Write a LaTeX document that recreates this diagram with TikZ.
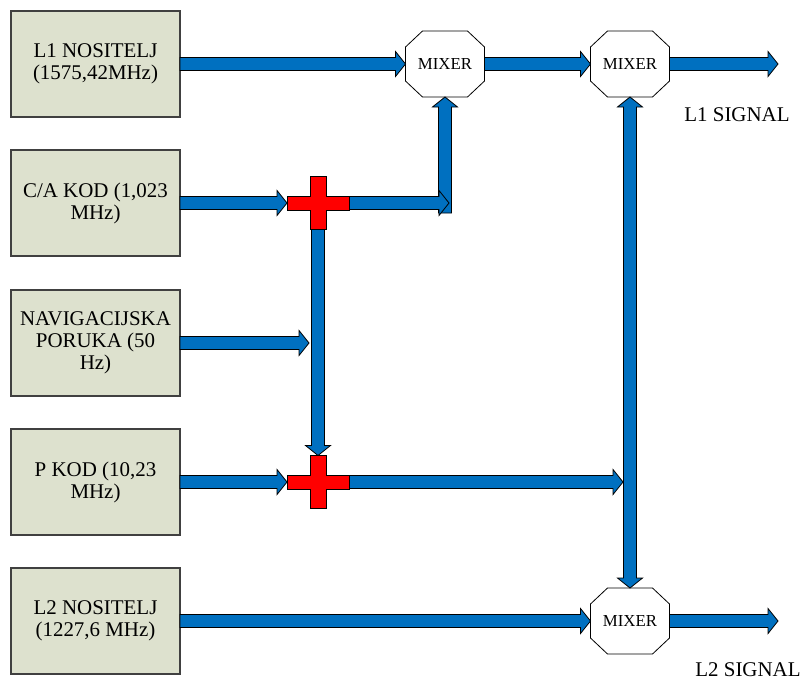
\documentclass[tikz,border=0pt]{standalone}
\usepackage{fontspec}
\setmainfont{Liberation Serif}
\usetikzlibrary{calc}

\definecolor{boxfill}{RGB}{221,225,206}
\definecolor{boxline}{RGB}{64,64,64}
\definecolor{flowblue}{RGB}{0,112,192}
\definecolor{sumred}{RGB}{255,0,0}

% block arrow: tail #1, tip #2
\newcommand\blockarrow[2]{%
  \path ($(#2)!7.5pt!(#1)$) coordinate (hb);
  \draw[flow] ($(#1)!4.875pt!90:(#2)$) -- ($(hb)!4.875pt!90:(#2)$)
    -- ($(hb)!9.4pt!90:(#2)$) -- (#2) -- ($(hb)!9.4pt!-90:(#2)$)
    -- ($(hb)!4.875pt!-90:(#2)$) -- ($(#1)!4.875pt!-90:(#2)$) -- cycle;}

% block arrow with heads at both ends
\newcommand\dblockarrow[2]{%
  \path ($(#2)!7.5pt!(#1)$) coordinate (hb) ($(#1)!7.5pt!(#2)$) coordinate (ha);
  \draw[flow] (#1) -- ($(ha)!9.4pt!90:(#2)$) -- ($(ha)!4.875pt!90:(#2)$)
    -- ($(hb)!4.875pt!90:(#2)$) -- ($(hb)!9.4pt!90:(#2)$) -- (#2)
    -- ($(hb)!9.4pt!-90:(#2)$) -- ($(hb)!4.875pt!-90:(#2)$)
    -- ($(ha)!4.875pt!-90:(#2)$) -- ($(ha)!9.4pt!-90:(#2)$) -- cycle;}

% octagon outline around a mixer node
\newcommand\octagon[1]{%
  \draw[mixline] ($(#1.north west)+(17,0)$) -- ($(#1.north east)+(-17,0)$)
    -- ($(#1.north east)+(0,16)$) -- ($(#1.south east)+(0,-16)$)
    -- ($(#1.south east)+(-17,0)$) -- ($(#1.south west)+(17,0)$)
    -- ($(#1.south west)+(0,-16)$) -- ($(#1.north west)+(0,16)$) -- cycle;}

% red plus sign of a summing junction
\newcommand\plussign[1]{%
  \draw[plus] ($(#1)+(-8,-26.5)$) -- ($(#1)+(8,-26.5)$) -- ($(#1)+(8,-7)$)
    -- ($(#1)+(31,-7)$) -- ($(#1)+(31,7)$) -- ($(#1)+(8,7)$)
    -- ($(#1)+(8,26.5)$) -- ($(#1)+(-8,26.5)$) -- ($(#1)+(-8,7)$)
    -- ($(#1)+(-31,7)$) -- ($(#1)+(-31,-7)$) -- ($(#1)+(-8,-7)$) -- cycle;}

\tikzset{
  src/.style={draw=boxline, fill=boxfill, line width=1.2pt,
    minimum width=126.75pt, minimum height=79.5pt, inner sep=0pt, outer sep=0pt,
    align=center, font=\fontsize{15.7}{16.5}\selectfont},
  mixer/.style={minimum width=59.25pt, minimum height=49.5pt,
    inner sep=0pt, outer sep=0pt, font=\fontsize{12.6}{14}\selectfont},
  sumnode/.style={minimum width=46.5pt, minimum height=39.75pt,
    inner sep=0pt, outer sep=0pt},
  flow/.style={fill=flowblue, draw=black, line width=0.6pt, line join=miter},
  mixline/.style={draw=black, line width=0.6pt},
  plus/.style={fill=sumred, draw=black, line width=0.6pt},
  siglabel/.style={font=\fontsize{15.7}{16.5}\selectfont}
}

\begin{document}
\begin{tikzpicture}[x=0.75pt,y=-0.75pt]
\useasboundingbox (0,0) rectangle (803,682);

% signal sources
\node[src] (l1)  at (95.5,64)  {L1 NOSITELJ\\(1575,42MHz)};
\node[src] (ca)  at (95.5,203) {C/A KOD (1,023\\MHz)};
\node[src] (nav) at (95.5,343) {NAVIGACIJSKA\\PORUKA (50\\Hz)};
\node[src] (pk)  at (95.5,482) {P KOD (10,23\\MHz)};
\node[src] (l2)  at (95.5,621) {L2 NOSITELJ\\(1227,6 MHz)};

% mixers
\node[mixer] (mx1) at (445,64)  {MIXER};
\node[mixer] (mx2) at (630,64)  {MIXER};
\node[mixer] (mx3) at (630,621) {MIXER};
\octagon{mx1}
\octagon{mx2}
\octagon{mx3}

% summing junctions
\node[sumnode] (c1) at (318,203) {};
\node[sumnode] (c2) at (318,482) {};

% auxiliary end points
\coordinate (j1)  at (449,203);
\coordinate (j1b) at (445,213);
\coordinate (j2)  at (309,343);
\coordinate (j3)  at (623,482);
\coordinate (o1)  at (778,64);
\coordinate (o2)  at (778,621);

% vertical flows
\blockarrow{j1b}{mx1.south}
\blockarrow{c1.south}{c2.north}
\dblockarrow{mx2.south}{mx3.north}

% horizontal flows
\blockarrow{l1.east}{mx1.west}
\blockarrow{mx1.east}{mx2.west}
\blockarrow{mx2.east}{o1}
\blockarrow{ca.east}{c1.west}
\blockarrow{c1.east}{j1}
\blockarrow{nav.east}{j2}
\blockarrow{pk.east}{c2.west}
\blockarrow{c2.east}{j3}
\blockarrow{l2.east}{mx3.west}
\blockarrow{mx3.east}{o2}

\plussign{c1.center}
\plussign{c2.center}

% output labels
\node[siglabel] (s1) at (737,115) {L1 SIGNAL};
\node[siglabel] (s2) at (748,670) {L2 SIGNAL};
\end{tikzpicture}
\end{document}
